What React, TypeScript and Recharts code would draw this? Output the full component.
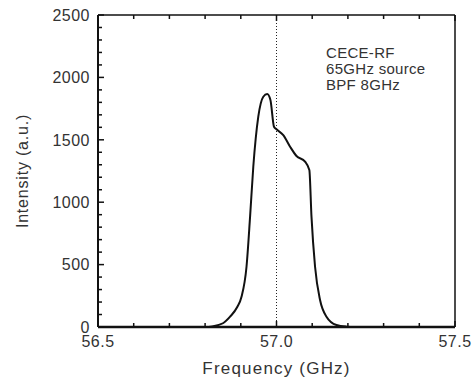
import { LineChart, Line, XAxis, YAxis, ReferenceLine } from 'recharts'

const freq = [
  56.5, 56.8, 56.82, 56.85, 56.87, 56.89, 56.902, 56.916, 56.926, 56.935, 56.949, 56.963, 56.974,
  56.983, 56.993, 57.0, 57.019, 57.038, 57.056, 57.08, 57.092, 57.098, 57.108, 57.122, 57.14,
  57.168, 57.196, 57.22, 57.5,
]
const intensity = [
  0, 0, 5, 30, 83, 160, 243, 483, 884, 1284, 1685, 1845, 1867,
  1819, 1605, 1584, 1538, 1445, 1370, 1325, 1258, 884, 483, 216, 83,
  16, 3, 0, 0,
]
const notes = ['CECE-RF', '65GHz source', 'BPF 8GHz']

const xTicks = [56.5, 56.6, 56.7, 56.8, 56.9, 57.0, 57.1, 57.2, 57.3, 57.4, 57.5]
const yTicks = Array.from({ length: 26 }, (_, i) => i * 100)

const data = freq.map((f, i) => ({ f, v: intensity[i] }))

const font = '"Liberation Sans", Arial, sans-serif'
const ink = '#111'
const txt = '#333'

const isMajorX = (v: number) => Math.abs(v * 2 - Math.round(v * 2)) < 1e-6
const isMajorY = (v: number) => v % 500 === 0

// tick marks point into the plot; major ones are longer
const BottomTick = ({ x, y, payload }: any) => {
  const major = isMajorX(payload.value)
  return (
    <g>
      <line x1={x} x2={x} y1={y} y2={y - (major ? 6 : 4)} stroke={ink} strokeWidth={1.5} />
      {major && (
        <text x={x} y={y + 20} textAnchor="middle" fill={txt} fontSize={16} fontFamily={font} letterSpacing={0.5}>
          {payload.value.toFixed(1)}
        </text>
      )}
    </g>
  )
}

const TopTick = ({ x, y, payload }: any) => (
  <line x1={x} x2={x} y1={y} y2={y + (isMajorX(payload.value) ? 6 : 4)} stroke={ink} strokeWidth={1.5} />
)

const LeftTick = ({ x, y, payload }: any) => {
  const major = isMajorY(payload.value)
  return (
    <g>
      <line x1={x} x2={x + (major ? 6 : 4)} y1={y} y2={y} stroke={ink} strokeWidth={1.5} />
      {major && (
        <text x={x - 8} y={y} dy="0.36em" textAnchor="end" fill={txt} fontSize={16} fontFamily={font} letterSpacing={0.5}>
          {payload.value}
        </text>
      )}
    </g>
  )
}

const RightTick = ({ x, y, payload }: any) => (
  <line x1={x} x2={x - (isMajorY(payload.value) ? 6 : 4)} y1={y} y2={y} stroke={ink} strokeWidth={1.5} />
)

const common = { type: 'number' as const, interval: 0, tickSize: 0, tickMargin: 0, tickLine: false }

export default function App() {
  return (
    <div style={{ position: 'relative', width: 476, height: 385, background: '#fff' }}>
      <style>{`body{margin:0}`}</style>
      <LineChart width={476} height={385} data={data} margin={{ top: 14, right: 20, left: 0, bottom: 0 }}>
        <XAxis
          {...common}
          dataKey="f"
          domain={[56.5, 57.5]}
          ticks={xTicks}
          tick={<BottomTick />}
          axisLine={{ stroke: ink, strokeWidth: 2.5 }}
          height={58}
          label={{
            value: 'Frequency (GHz)',
            position: 'insideBottom',
            offset: 11,
            fill: txt,
            fontSize: 17,
            fontFamily: font,
            letterSpacing: 1.2,
          }}
        />
        <XAxis
          {...common}
          xAxisId="top"
          dataKey="f"
          orientation="top"
          domain={[56.5, 57.5]}
          ticks={xTicks}
          tick={<TopTick />}
          axisLine={{ stroke: ink, strokeWidth: 1.5 }}
          height={1}
        />
        <YAxis
          {...common}
          domain={[0, 2500]}
          ticks={yTicks}
          tick={<LeftTick />}
          axisLine={{ stroke: ink, strokeWidth: 2 }}
          width={98}
          label={{
            content: ({ viewBox }: any) => {
              const cy = viewBox.y + viewBox.height / 2
              return (
                <text x={22} y={cy} transform={`rotate(-90, 22, ${cy})`} textAnchor="middle" dy="0.36em"
                  fill={txt} fontSize={16} fontFamily={font} letterSpacing={0.8}>
                  Intensity (a.u.)
                </text>
              )
            },
          }}
        />
        <YAxis
          {...common}
          yAxisId="right"
          orientation="right"
          domain={[0, 2500]}
          ticks={yTicks}
          tick={<RightTick />}
          axisLine={{ stroke: ink, strokeWidth: 1.5 }}
          width={1}
        />
        <ReferenceLine x={57} stroke="#222" strokeWidth={1} strokeDasharray="1 2" />
        <Line dataKey="v" type="monotone" stroke={ink} strokeWidth={2} dot={false} isAnimationActive={false} />
      </LineChart>
      <div
        style={{
          position: 'absolute',
          left: 326,
          top: 45,
          fontFamily: font,
          fontSize: 15,
          lineHeight: '16px',
          color: txt,
          letterSpacing: 0.3,
        }}
      >
        {notes.map((n) => (
          <div key={n}>{n}</div>
        ))}
      </div>
    </div>
  )
}
